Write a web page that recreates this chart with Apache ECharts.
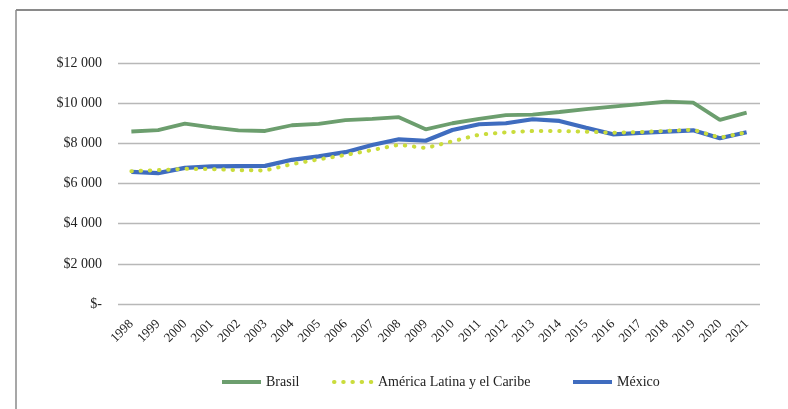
<!DOCTYPE html>
<html>
<head>
<meta charset="utf-8">
<script src="https://cdn.jsdelivr.net/npm/echarts@6/dist/echarts.min.js"></script>
<style>
html,body{margin:0;padding:0;background:#fff;}
#chart{width:788px;height:409px;}
</style>
</head>
<body>
<div id="chart"></div>
<script>
const years = ['1998','1999','2000','2001','2002','2003','2004','2005','2006','2007','2008','2009','2010','2011','2012','2013','2014','2015','2016','2017','2018','2019','2020','2021'];
const brasil = [8590,8660,8980,8800,8650,8615,8900,8965,9160,9215,9300,8700,9000,9215,9400,9430,9560,9700,9830,9950,10080,10030,9165,9530];
const mexico = [6580,6515,6780,6850,6865,6880,7180,7350,7560,7915,8200,8130,8665,8950,9000,9200,9115,8780,8450,8515,8580,8650,8250,8550];
const alc = [6615,6665,6730,6715,6665,6650,6965,7200,7420,7665,7930,7765,8100,8430,8550,8615,8615,8580,8530,8565,8615,8680,8280,8550];
const yTicks = [0,2000,4000,6000,8000,10000,12000];

const serif = '"Liberation Serif","Times New Roman",serif';
const chart = echarts.init(document.getElementById('chart'));

function fmt(v){
  if (v === 0) return '$-';
  const s = String(v);
  return '$' + s.slice(0, s.length-3) + ' ' + s.slice(-3);
}

const legendBase = {
  top: 370, itemWidth: 39, itemHeight: 8, itemGap: 5,
  itemStyle: {opacity: 0},
  lineStyle: {width: 4},
  textStyle: {fontFamily: serif, fontSize: 14, color: '#222'}
};

chart.setOption({
  animation: false,
  backgroundColor: '#fff',
  grid: {left: 118, right: 28, top: 63, bottom: 105},
  xAxis: {
    type: 'category',
    data: years,
    boundaryGap: true,
    axisLine: {show: false},
    axisTick: {show: false},
    axisLabel: {rotate: 45, fontFamily: serif, fontSize: 13, color: '#222', margin: 18, interval: 0}
  },
  yAxis: {
    type: 'value',
    min: yTicks[0], max: yTicks[yTicks.length-1], interval: 2000,
    axisLine: {show: false},
    axisTick: {show: false},
    splitLine: {lineStyle: {color: '#b8b8b8', width: 1.3}},
    axisLabel: {fontFamily: serif, fontSize: 14, color: '#222', margin: 16, formatter: fmt}
  },
  legend: [
    Object.assign({}, legendBase, {left: 215, data: ['Brasil']}),
    Object.assign({}, legendBase, {left: 327, data: ['América Latina y el Caribe']}),
    Object.assign({}, legendBase, {left: 566, data: ['México']})
  ],
  graphic: [
    {type: 'line', shape: {x1: 16, y1: 10, x2: 788, y2: 10}, style: {stroke: '#8a8a8a', lineWidth: 2}},
    {type: 'line', shape: {x1: 16, y1: 10, x2: 16, y2: 409}, style: {stroke: '#8a8a8a', lineWidth: 1.5}}
  ],
  series: [
    {name: 'Brasil', type: 'line', data: brasil, symbol: 'none', smooth: false,
     lineStyle: {color: '#6c9e6e', width: 3.8}, itemStyle: {color: '#6c9e6e'}, z: 2},
    {name: 'México', type: 'line', data: mexico, symbol: 'none',
     lineStyle: {color: '#3f6cbf', width: 4.2}, itemStyle: {color: '#3f6cbf'}, z: 3},
    {name: 'América Latina y el Caribe', type: 'line', data: alc, symbol: 'none',
     lineStyle: {color: '#cadc3c', width: 4, type: [0.5, 8.7], cap: 'round'}, itemStyle: {color: '#cadc3c'}, z: 4}
  ]
});
</script>
</body>
</html>
